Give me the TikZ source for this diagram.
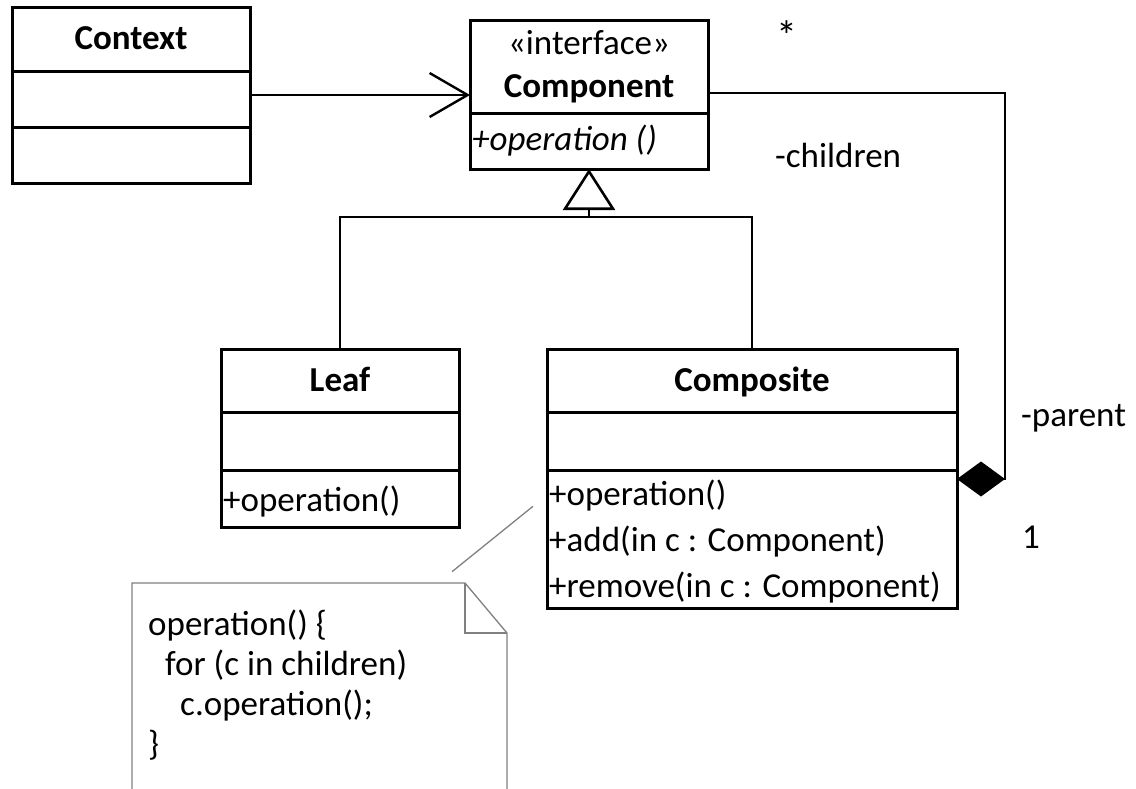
\documentclass[tikz,border=0pt]{standalone}
\usepackage{fontspec}
\setmainfont{Carlito}
\usepackage{tikz}
\usetikzlibrary{calc,positioning,arrows.meta}
\tikzset{
  cls/.style={rectangle,draw=black,line width=3pt,inner sep=0pt,outer sep=0pt,minimum width=238pt},
  widecls/.style={cls,minimum width=410pt},
  title/.style={font=\bfseries,text height=0.62em,text depth=0pt},
  member/.style={anchor=west,inner sep=2pt,align=left},
  role/.style={anchor=base west,inner sep=0pt},
  line/.style={draw,line width=1.5pt},
  noteline/.style={draw=black!50,line width=1.3pt},
}

\begin{document}
\fontsize{35}{46}\selectfont
\begin{tikzpicture}[x=1pt,y=-1pt]
  \useasboundingbox (0,0) rectangle (1136,788);

  % Context
  \node[cls,title,minimum height=64pt] (context) at (131,39) {Context};
  \node[cls,minimum height=56pt,below=0pt of context] (contextattr) {};
  \node[cls,minimum height=56pt,below=0pt of contextattr] (contextops) {};

  % Component
  \node[cls,minimum height=93pt,align=center,font=\fontsize{35}{43}\selectfont] (component) at (589,66.5) {«interface»\\\textbf{Component}};
  \node[cls,minimum height=56pt,below=0pt of component] (componentops) {};
  \node[member] at (componentops.west) {\itshape +operation ()};

  % Leaf
  \node[cls,title,minimum height=63pt] (leaf) at (340,380.5) {Leaf};
  \node[cls,minimum height=58pt,below=0pt of leaf] (leafattr) {};
  \node[cls,minimum height=57pt,below=0pt of leafattr] (leafops) {};
  \node[member] at ([yshift=-3pt]leafops.west) {+operation()};

  % Composite
  \node[widecls,title,minimum height=63pt] (composite) at (752,380.5) {Composite};
  \node[widecls,minimum height=58pt,below=0pt of composite] (compositeattr) {};
  \node[widecls,minimum height=138pt,below=0pt of compositeattr] (compositeops) {};
  \node[member] at ([yshift=-3pt]compositeops.west) {+operation()\\+add(in c : Component)\\+remove(in c : Component)};

  % note
  \draw[noteline] (132,792) -- (132,583) -- (465,583) -- (507,633) -- (507,792);
  \draw[noteline] (465,583) -- (465,633) -- (507,633);
  \node[member,font=\fontsize{35}{40}\selectfont] (note) at (146,685)
    {operation() \{\\\hspace*{17pt}for (c in children)\\\hspace*{32pt}c.operation();\\\}};

  % roles
  \node[role,font=\fontsize{42}{46}\selectfont] (many) at (776,50) {*};
  \node[role] (children) at (775,167) {-children};
  \node[role] (parent) at (1021,426) {-parent};
  \node[role] (one) at (1022,548) {1};

  % connectors
  \coordinate (ctxmid) at ($(context.north east)!.5!(contextops.south east)$);
  \draw[line,-{Straight Barb[length=38pt,width=44pt,line width=2.4pt]}] (ctxmid) -- (ctxmid -| component.west);

  \coordinate (join) at (589,217);
  \draw[line] (leaf.north) |- (join) -| (composite.north);
  \draw[line,-{Triangle[open,length=41pt,width=52pt,line width=2.6pt]}] (join) -- (componentops.south);

  \coordinate (compositeagg) at ($(compositeattr.south east)+(0,9)$);
  \coordinate (aggcorner) at (1005,93);
  \draw[line,{Diamond[length=48pt,width=35pt]}-] (compositeagg) -| (aggcorner) -- (aggcorner -| component.east);

  \coordinate (notecorner) at (438,583);
  \coordinate (compositerow) at (547,495);
  \draw[noteline,shorten <=18pt,shorten >=18pt] (notecorner) -- (compositerow);
\end{tikzpicture}
\end{document}
